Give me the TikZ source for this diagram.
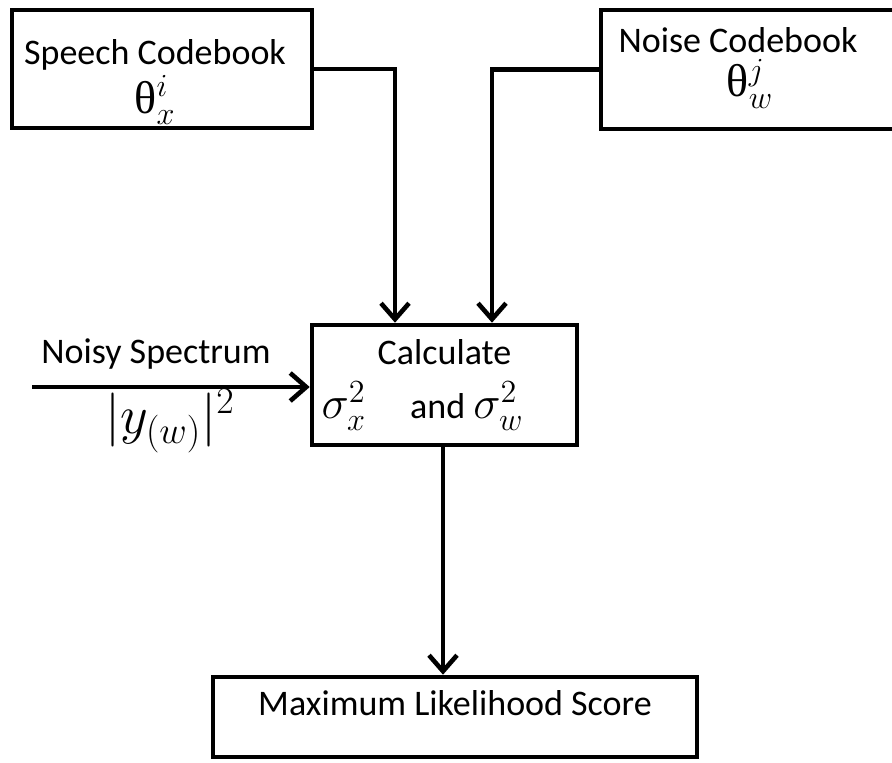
\documentclass[tikz,border=0pt]{standalone}
\usepackage{fix-cm}
\usepackage{fontspec}
\setmainfont{Carlito}
\newfontfamily\grkfont{Liberation Serif}
\usetikzlibrary{arrows.meta}
\newcommand{\symsize}[1]{{\fontsize{23}{26}\selectfont #1}}
\begin{document}
\begin{tikzpicture}[x=0.5pt,y=-0.5pt,
    box/.style={draw, line width=2.3pt, align=center, inner sep=0pt},
    arr/.style={line width=2.3pt, -{Straight Barb[length=8pt,width=14pt,line width=2.3pt]}},
    every node/.style={font=\fontsize{18}{20}\selectfont}]
    \useasboundingbox (0,0) rectangle (892,762);
    \node[box, minimum width=150pt, minimum height=59pt] (speech) at (162,69) {};
    \node[align=center, inner sep=0pt] (speechtxt) at (155,82)
        {Speech Codebook\\[2pt] \symsize{\grkfont θ$_{x}^{i}$}};
    \node[box, minimum width=150pt, minimum height=59.5pt] (noise) at (751,69.5) {};
    \node[align=center, inner sep=0pt] (noisetxt) at (750,68)
        {\hspace*{-12pt}Noise Codebook\\[2pt] \symsize{\grkfont θ$_{w}^{j}$}};
    \node[box, minimum width=132.5pt, minimum height=60pt] (calc) at (444.5,385)
        {Calculate\\[7pt] \hspace*{-22pt}\symsize{$\sigma_{x}^{2}$}\quad\ and \symsize{$\sigma_{w}^{2}$}};
    \node[box, minimum width=242pt, minimum height=40pt, text depth=14pt] (score) at (455,717)
        {Maximum Likelihood Score};
    \coordinate (src) at (32,387);
    \node (noisy) at (156,354) {Noisy Spectrum};
    \node (ylab) at (170,421) {\fontsize{27}{30}\selectfont$|y_{(w)}|^{2}$};
    \draw[arr] (speech.east) -| ([xshift=-24.75pt]calc.north);
    \draw[arr] (noise.west) -| ([xshift=23.75pt]calc.north);
    \draw[arr] (src) -- (calc.west |- src);
    \draw[arr] ([xshift=-0.75pt]calc.south) -- ([xshift=-0.75pt]calc.south |- score.north);
\end{tikzpicture}
\end{document}
